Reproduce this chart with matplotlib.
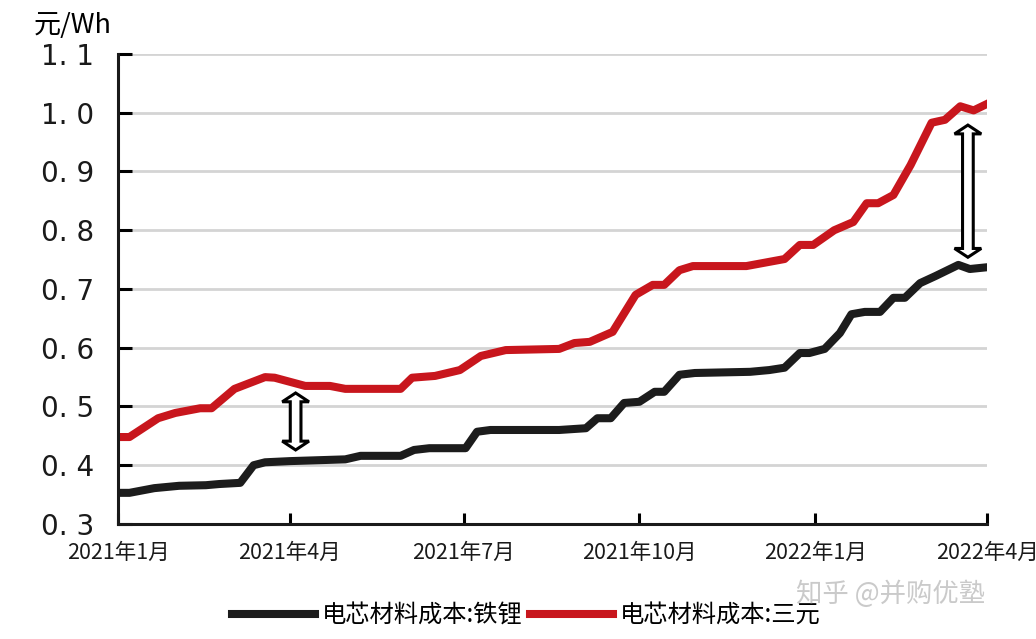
import matplotlib
matplotlib.use("Agg")
import matplotlib.pyplot as plt
import matplotlib.dates as mdates
from matplotlib.patches import Polygon
import pandas as pd

plt.rcParams['font.family'] = ['Noto Sans CJK SC', 'DejaVu Sans']

# 电芯材料成本:铁锂 (元/Wh)
lfp_dates = ["2021-01-01", "2021-01-07", "2021-01-20", "2021-02-02", "2021-02-16", "2021-02-23",
             "2021-03-06", "2021-03-13", "2021-03-19", "2021-04-01", "2021-04-30", "2021-05-08",
             "2021-05-29", "2021-06-05", "2021-06-13", "2021-07-02", "2021-07-08", "2021-07-15",
             "2021-08-20", "2021-09-03", "2021-09-09", "2021-09-16", "2021-09-23", "2021-10-01",
             "2021-10-09", "2021-10-14", "2021-10-22", "2021-10-30", "2021-11-28", "2021-12-08",
             "2021-12-16", "2021-12-24", "2021-12-29", "2022-01-06", "2022-01-14", "2022-01-20",
             "2022-01-27", "2022-02-04", "2022-02-11", "2022-02-17", "2022-02-25", "2022-03-05",
             "2022-03-17", "2022-03-23", "2022-04-01"]
lfp_values = [0.353, 0.353, 0.361, 0.365, 0.366, 0.368,
              0.370, 0.400, 0.405, 0.407, 0.410, 0.416,
              0.416, 0.426, 0.429, 0.429, 0.457, 0.460,
              0.460, 0.463, 0.480, 0.480, 0.506, 0.508,
              0.525, 0.525, 0.554, 0.557, 0.559, 0.562,
              0.566, 0.591, 0.591, 0.598, 0.625, 0.657,
              0.661, 0.661, 0.685, 0.685, 0.710, 0.722,
              0.741, 0.734, 0.737]

# 电芯材料成本:三元 (元/Wh)
ncm_dates = ["2021-01-01", "2021-01-07", "2021-01-22", "2021-01-31", "2021-02-13", "2021-02-19",
             "2021-03-03", "2021-03-11", "2021-03-19", "2021-03-24", "2021-04-09", "2021-04-22",
             "2021-04-30", "2021-05-29", "2021-06-04", "2021-06-16", "2021-06-29", "2021-07-10",
             "2021-07-23", "2021-08-20", "2021-08-28", "2021-09-05", "2021-09-17", "2021-09-29",
             "2021-10-08", "2021-10-14", "2021-10-22", "2021-10-29", "2021-11-26", "2021-12-16",
             "2021-12-24", "2021-12-31", "2022-01-11", "2022-01-21", "2022-01-28", "2022-02-03",
             "2022-02-11", "2022-02-20", "2022-03-03", "2022-03-10", "2022-03-18", "2022-03-25",
             "2022-04-01"]
ncm_values = [0.448, 0.448, 0.480, 0.489, 0.497, 0.497,
              0.530, 0.540, 0.550, 0.549, 0.535, 0.535,
              0.530, 0.530, 0.549, 0.552, 0.562, 0.586,
              0.596, 0.598, 0.608, 0.610, 0.627, 0.690,
              0.707, 0.707, 0.732, 0.739, 0.739, 0.751,
              0.775, 0.775, 0.800, 0.814, 0.846, 0.846,
              0.860, 0.911, 0.983, 0.988, 1.011, 1.004,
              1.015]

# gap arrows: (date, low, high)
gap_arrows = [("2021-04-04", 0.426, 0.523), ("2022-03-22", 0.754, 0.979)]

x_ticks = ["2021-01-01", "2021-04-01", "2021-07-01", "2021-10-01", "2022-01-01", "2022-04-01"]
x_labels = ["2021年1月", "2021年4月", "2021年7月", "2021年10月", "2022年1月", "2022年4月"]
y_ticks = [0.3, 0.4, 0.5, 0.6, 0.7, 0.8, 0.9, 1.0, 1.1]


def double_arrow(ax, c, lo, hi, hw=7.0, sw=2.8, hl=0.015):
    pts = [(c, hi), (c + hw, hi - hl), (c + sw, hi - hl), (c + sw, lo + hl),
           (c + hw, lo + hl), (c, lo), (c - hw, lo + hl), (c - sw, lo + hl),
           (c - sw, hi - hl), (c - hw, hi - hl)]
    ax.add_patch(Polygon(pts, closed=True, facecolor="white", edgecolor="black",
                         lw=2.2, joinstyle="miter", zorder=5))


fig = plt.figure(figsize=(10.36, 6.39), dpi=100)
ax = fig.add_axes([0.1139, 0.18, 0.8388, 0.7355])

ax.plot(pd.to_datetime(lfp_dates), lfp_values, color="#1c1c1c", lw=5.8,
        label="电芯材料成本:铁锂")
ax.plot(pd.to_datetime(ncm_dates), ncm_values, color="#c8161d", lw=5.8,
        label="电芯材料成本:三元")

for d, lo, hi in gap_arrows:
    double_arrow(ax, mdates.date2num(pd.Timestamp(d)), lo, hi)

ax.set_xlim(pd.Timestamp("2021-01-01"), pd.Timestamp("2022-04-01"))
ax.set_ylim(0.3, 1.1)
ax.set_yticks(y_ticks)
ax.set_yticklabels([f"{v:.1f}".replace(".", ". ") for v in y_ticks], fontsize=20,
                   family=["DejaVu Sans"], color="#1a1a1a")
ax.set_xticks(pd.to_datetime(x_ticks))
ax.set_xticklabels(x_labels, fontsize=15.5, color="#1a1a1a")

ax.grid(axis="y", color="#d4d4d4", lw=2)
ax.set_axisbelow(True)
for s in ["top", "right"]:
    ax.spines[s].set_visible(False)
for s in ["left", "bottom"]:
    ax.spines[s].set_linewidth(2.2)
    ax.spines[s].set_color("#1a1a1a")
ax.tick_params(axis="y", direction="in", length=10, width=2.2, pad=17)
ax.tick_params(axis="x", direction="in", length=8, width=2.2, pad=13)

fig.text(0.033, 0.96, "元/Wh", fontsize=19.5, ha="left", va="center")

ax.legend(loc="center", bbox_to_anchor=(0.47, -0.195), ncol=2, frameon=False,
          fontsize=17.5, handlelength=3.4, columnspacing=0.3, handletextpad=0.3)

fig.text(0.86, 0.07, "知乎 @并购优塾", fontsize=19, color="#bdbdbd", alpha=0.8,
         ha="center", va="center")

fig.savefig("out.png", dpi=100)
